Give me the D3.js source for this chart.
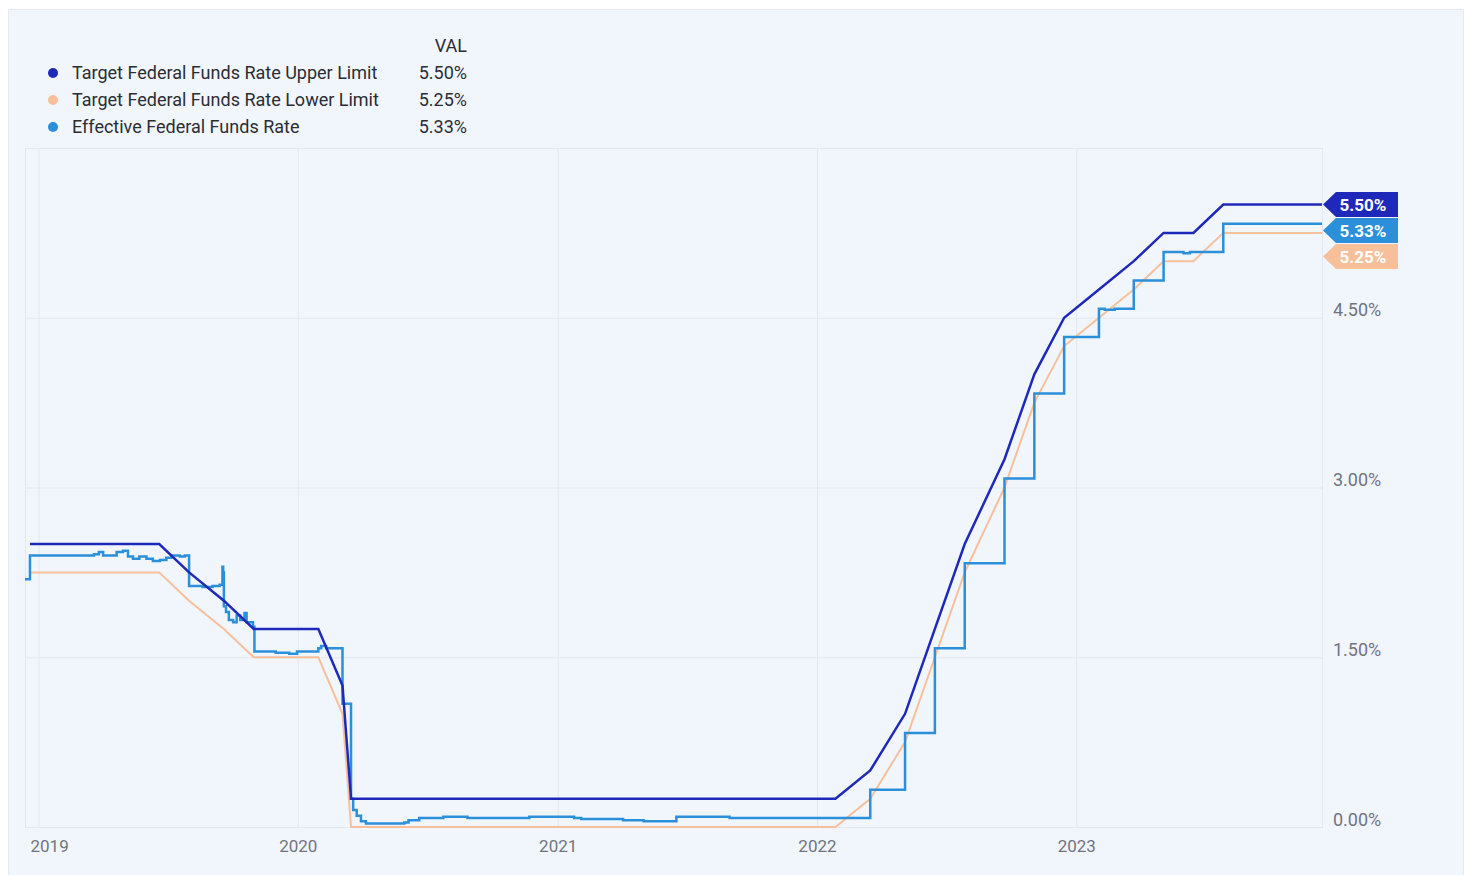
<!DOCTYPE html>
<html lang="en">
<head>
<meta charset="UTF-8">
<title>Federal Funds Rate</title>
<script src="https://d3js.org/d3.v7.min.js"></script>
<style>
  body { margin: 0; background: #fff; font-family: Roboto, "Noto Sans", Arial, sans-serif; }
  svg { display: block; }
  .axis text { fill: #70747d; font-size: 17px; font-family: Roboto, sans-serif; }
  .axis.y text { font-size: 18px; }
  .axis .domain { display: none; }
  .axis line { stroke: #e3e8ef; }
  .legend text { font-size: 18px; fill: #2b2d33; }
</style>
</head>
<body>
<div id="chart"></div>
<script>
// target range, one point per FOMC decision (the line joins them)
const targetDates = ["2018-12-20", "2019-06-20", "2019-08-01", "2019-09-19", "2019-10-31", "2020-01-30",
  "2020-03-04", "2020-03-16", "2022-01-27", "2022-03-17", "2022-05-05", "2022-06-16", "2022-07-28",
  "2022-09-22", "2022-11-03", "2022-12-15", "2023-02-02", "2023-03-23", "2023-05-04", "2023-06-15",
  "2023-07-27", "2023-12-13"];
const upperLimit = [2.50, 2.50, 2.25, 2.00, 1.75, 1.75, 1.25, 0.25, 0.25, 0.50, 1.00, 1.75, 2.50,
  3.25, 4.00, 4.50, 4.75, 5.00, 5.25, 5.25, 5.50, 5.50];
const lowerLimit = [2.25, 2.25, 2.00, 1.75, 1.50, 1.50, 1.00, 0.00, 0.00, 0.25, 0.75, 1.50, 2.25,
  3.00, 3.75, 4.25, 4.50, 4.75, 5.00, 5.00, 5.25, 5.25];

// effective rate (held until the next point)
const effDates = ["2018-12-13", "2018-12-20", "2019-03-20", "2019-03-27", "2019-04-02", "2019-04-21",
  "2019-04-30", "2019-05-07", "2019-05-14", "2019-05-23", "2019-06-02", "2019-06-11", "2019-06-21",
  "2019-06-30", "2019-07-07", "2019-07-19", "2019-07-26", "2019-08-01", "2019-08-20", "2019-09-03",
  "2019-09-13", "2019-09-17", "2019-09-18", "2019-09-19", "2019-09-22", "2019-09-26", "2019-10-02",
  "2019-10-07", "2019-10-12", "2019-10-18", "2019-10-21", "2019-10-30", "2019-11-01", "2019-12-01",
  "2019-12-20", "2019-12-31", "2020-01-30", "2020-02-03", "2020-02-10", "2020-03-04", "2020-03-16",
  "2020-03-19", "2020-03-24", "2020-03-30", "2020-04-06", "2020-05-30", "2020-06-05", "2020-06-20",
  "2020-07-24", "2020-08-27", "2020-11-22", "2021-01-24", "2021-02-03", "2021-04-03", "2021-05-02",
  "2021-06-17", "2021-08-31", "2022-03-17", "2022-05-05", "2022-06-16", "2022-07-28", "2022-09-22",
  "2022-11-03", "2022-12-15", "2023-02-02", "2023-02-10", "2023-02-24", "2023-03-23", "2023-05-04",
  "2023-06-01", "2023-06-10", "2023-07-27", "2023-12-13"];
const effValues = [2.19, 2.40, 2.41, 2.43, 2.40, 2.43,
  2.44, 2.39, 2.37, 2.39, 2.37, 2.35, 2.36,
  2.38, 2.40, 2.39, 2.40, 2.13, 2.12, 2.13,
  2.14, 2.30, 2.25, 1.95, 1.90, 1.83, 1.81,
  1.87, 1.83, 1.89, 1.81, 1.77, 1.55, 1.54,
  1.53, 1.55, 1.58, 1.60, 1.58, 1.09, 0.25,
  0.15, 0.10, 0.05, 0.03, 0.04, 0.06, 0.08,
  0.09, 0.08, 0.09, 0.08, 0.07, 0.06, 0.05,
  0.09, 0.08, 0.33, 0.83, 1.58, 2.33, 3.08,
  3.83, 4.33, 4.58, 4.57, 4.58, 4.83, 5.08,
  5.07, 5.08, 5.33, 5.33];

const seriesNames = ["Target Federal Funds Rate Upper Limit", "Target Federal Funds Rate Lower Limit", "Effective Federal Funds Rate"];
const seriesColors = ["#1f29b9", "#f7bf9a", "#2b8fd9"];
const lastValues = [5.50, 5.25, 5.33];
const yTicks = [0, 1.5, 3, 4.5];

const W = 1469, H = 875;
const plot = { left: 25, right: 1322, top: 148, bottom: 827 };
const parse = d3.utcParse("%Y-%m-%d");
const pct = d => d.toFixed(2) + "%";

const svg = d3.select("#chart").append("svg")
  .attr("width", W)
  .attr("height", H);

// card background
svg.append("rect")
  .attr("x", 8.5).attr("y", 9.5)
  .attr("width", 1455).attr("height", 870)
  .attr("fill", "#f1f6fd")
  .attr("stroke", "#e6eaf0");

const x = d3.scaleUtc()
  .domain([parse("2018-12-13"), parse("2023-12-13")])
  .range([plot.left, plot.right]);

const y = d3.scaleLinear()
  .domain([0, 6])
  .range([plot.bottom, plot.top]);

// vertical gridlines + year labels
const xAxis = svg.append("g")
  .attr("class", "axis x")
  .attr("transform", `translate(0,${plot.bottom})`)
  .call(d3.axisBottom(x)
    .ticks(d3.utcYear.every(1))
    .tickFormat(d3.utcFormat("%Y"))
    .tickSize(-(plot.bottom - plot.top))
    .tickPadding(13));
xAxis.selectAll("text").each(function() {
  // keep the first label inside the card
  const t = d3.select(this);
  const w = this.getComputedTextLength();
  const tx = x(t.datum());
  if (tx - w / 2 < plot.left + 5) t.attr("x", plot.left + 5 + w / 2 - tx);
});

// horizontal gridlines + value labels on the right
const yAxis = svg.append("g")
  .attr("class", "axis y")
  .attr("transform", `translate(${plot.right},0)`)
  .call(d3.axisRight(y)
    .tickValues(yTicks)
    .tickFormat(pct)
    .tickSize(-(plot.right - plot.left))
    .tickPadding(11));
yAxis.selectAll("text").attr("dy", "-0.1em");

// plot frame
svg.append("rect")
  .attr("x", plot.left + 0.5).attr("y", plot.top + 0.5)
  .attr("width", plot.right - plot.left).attr("height", plot.bottom - plot.top)
  .attr("fill", "none")
  .attr("stroke", "#e3e8ef");

const targetUpper = targetDates.map((d, i) => ({ date: parse(d), value: upperLimit[i] }));
const targetLower = targetDates.map((d, i) => ({ date: parse(d), value: lowerLimit[i] }));
const effective = effDates.map((d, i) => ({ date: parse(d), value: effValues[i] }));

const line = d3.line()
  .x(d => x(d.date))
  .y(d => y(d.value));

svg.append("path")
  .datum(targetLower)
  .attr("fill", "none")
  .attr("stroke", seriesColors[1])
  .attr("stroke-width", 2)
  .attr("d", line);

svg.append("path")
  .datum(effective)
  .attr("fill", "none")
  .attr("stroke", seriesColors[2])
  .attr("stroke-width", 2.5)
  .attr("d", line.curve(d3.curveStepAfter));

svg.append("path")
  .datum(targetUpper)
  .attr("fill", "none")
  .attr("stroke", seriesColors[0])
  .attr("stroke-width", 2.5)
  .attr("d", line.curve(d3.curveLinear));

// value tags at the right end, stacked so they don't overlap
const tags = lastValues.map((v, i) => ({ v, color: seriesColors[i] }))
  .sort((a, b) => b.v - a.v);
let prevY = -Infinity;
tags.forEach(t => {
  t.y = Math.max(y(t.v), prevY + 26);
  prevY = t.y;
});
const tagG = svg.append("g");
tagG.selectAll("path")
  .data(tags)
  .join("path")
  .attr("fill", d => d.color)
  .attr("d", d => `M${plot.right + 1},${d.y} L${plot.right + 14},${d.y - 12.5} L1398,${d.y - 12.5} L1398,${d.y + 12.5} L${plot.right + 14},${d.y + 12.5} Z`);
tagG.selectAll("text")
  .data(tags)
  .join("text")
  .attr("x", 1363)
  .attr("y", d => d.y)
  .attr("dy", "0.36em")
  .attr("text-anchor", "middle")
  .attr("fill", "#fff")
  .attr("font-size", 17)
  .attr("font-weight", 700)
  .text(d => pct(d.v));

// legend
const legend = svg.append("g").attr("class", "legend");
legend.append("text")
  .attr("x", 467).attr("y", 52)
  .attr("text-anchor", "end")
  .text("VAL");
const rows = legend.selectAll("g.row")
  .data(seriesNames)
  .join("g")
  .attr("class", "row")
  .attr("transform", (d, i) => `translate(0,${73 + i * 27})`);
rows.append("circle")
  .attr("cx", 53).attr("cy", 0).attr("r", 5)
  .attr("fill", (d, i) => seriesColors[i]);
rows.append("text")
  .attr("x", 72).attr("dy", "0.36em")
  .text(d => d);
rows.append("text")
  .attr("x", 467).attr("dy", "0.36em")
  .attr("text-anchor", "end")
  .text((d, i) => pct(lastValues[i]));
</script>
</body>
</html>
